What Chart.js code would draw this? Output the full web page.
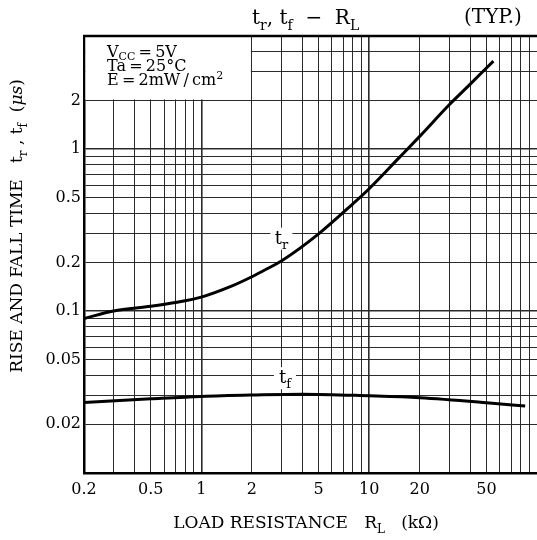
<!DOCTYPE html>
<html>
<head>
<meta charset="utf-8">
<script src="https://cdn.jsdelivr.net/npm/chart.js@4.4.1/dist/chart.umd.min.js"></script>
<style>
  html, body { margin: 0; padding: 0; background: #fff; }
</style>
</head>
<body>
<canvas id="chart" width="537" height="540"></canvas>
<script>
// rise time t_r against load resistance (kOhm -> us)
const trLoad = [0.2, 0.3, 0.5, 0.7, 1, 1.5, 2, 2.5, 3, 5, 8, 10, 15, 20, 30, 40, 55];
const trTime = [0.09, 0.1, 0.107, 0.113, 0.122, 0.142, 0.163, 0.184, 0.204, 0.3, 0.46, 0.57, 0.88, 1.2, 1.88, 2.52, 3.5];

// fall time t_f
const tfLoad = [0.2, 0.5, 1, 2, 4, 10, 20, 50, 85];
const tfTime = [0.0273, 0.0287, 0.0297, 0.0303, 0.0307, 0.03, 0.0292, 0.0272, 0.0259];

// grid lines and printed tick labels
const xGrid = [0.2, 0.3, 0.4, 0.5, 0.6, 0.7, 0.8, 0.9, 1, 2, 3, 4, 5, 6, 7, 8, 9, 10, 20, 30, 40, 50, 60, 70, 80, 90];
const xLabels = [0.2, 0.5, 1, 2, 5, 10, 20, 50];
const yGrid = [0.02, 0.03, 0.04, 0.05, 0.06, 0.07, 0.08, 0.09, 0.1, 0.2, 0.3, 0.4, 0.5, 0.6, 0.7, 0.8, 0.9, 1, 2, 3, 4];
const yLabels = [0.02, 0.05, 0.1, 0.2, 0.5, 1, 2];
const decades = [0.1, 1, 10];

const FONT = '"DejaVu Serif", "Liberation Serif", serif';

function toPoints(xs, ys) {
  return xs.map((x, i) => ({ x: x, y: ys[i] }));
}

// parts: [text, mode]  mode 0 normal, 1 subscript, 2 superscript, 3 italic
function drawRich(ctx, parts, x, y, size, align, subDrop) {
  ctx.save();
  const drop = subDrop === undefined ? 0.28 : subDrop;
  const fontFor = (m) => {
    const s = (m === 1 || m === 2) ? Math.round(size * 0.7) : size;
    return (m === 3 ? "italic " : "") + s + "px " + FONT;
  };
  let w = 0;
  parts.forEach((p) => {
    ctx.font = fontFor(p[1]);
    w += ctx.measureText(p[0]).width;
  });
  let cx = x;
  if (align === "center") cx = x - w / 2;
  if (align === "right") cx = x - w;
  ctx.textAlign = "left";
  ctx.textBaseline = "alphabetic";
  ctx.fillStyle = "#000";
  parts.forEach((p) => {
    ctx.font = fontFor(p[1]);
    let dy = 0;
    if (p[1] === 1) dy = size * drop;
    if (p[1] === 2) dy = -size * 0.4;
    ctx.fillText(p[0], cx, y + dy);
    cx += ctx.measureText(p[0]).width;
  });
  ctx.restore();
}

const boxPlugin = {
  id: "conditionsBox",
  beforeDatasetsDraw(chart) {
    const { ctx, chartArea, scales } = chart;
    const x2 = scales.x.getPixelForValue(2);
    const y2 = scales.y.getPixelForValue(2);
    ctx.save();
    ctx.fillStyle = "#fff";
    ctx.fillRect(chartArea.left + 1.5, chartArea.top + 1, x2 - chartArea.left - 2.5, y2 - chartArea.top - 2);
    ctx.restore();
  },
  afterDatasetsDraw(chart) {
    const { ctx, chartArea, scales } = chart;
    // top border
    ctx.save();
    ctx.strokeStyle = "#000";
    ctx.lineWidth = 2.5;
    ctx.beginPath();
    ctx.moveTo(chartArea.left - 1, chartArea.top);
    ctx.lineTo(chartArea.right, chartArea.top);
    ctx.stroke();

    // curve labels
    const labels = [
      { x: 3.0, y: 0.28, t: "r" },
      { x: 3.15, y: 0.0385, t: "f" },
    ];
    labels.forEach((l) => {
      const px = scales.x.getPixelForValue(l.x);
      const py = scales.y.getPixelForValue(l.y);
      ctx.fillStyle = "#fff";
      ctx.fillRect(px - 11, py - 11, 22, 22);
      drawRich(ctx, [["t", 0], [l.t, 1]], px, py + 5, 18, "center");
    });
    ctx.restore();

    // conditions
    const bx = chartArea.left + 23;
    drawRich(ctx, [["V", 0], ["CC", 1], ["\u2009=\u20095V", 0]], bx, 57, 16, "left", 0.2);
    drawRich(ctx, [["Ta\u2009=\u200925°C", 0]], bx, 71, 16, "left");
    drawRich(ctx, [["E\u2009=\u20092mW\u2009/\u2009cm", 0], ["2", 2]], bx, 85, 16, "left");

    // titles
    drawRich(ctx, [["t", 0], ["r", 1], [", t", 0], ["f", 1], ["  \u2212  R", 0], ["L", 1]], 252, 24, 20, "left");
    drawRich(ctx, [["(TYP.)", 0]], 464, 23, 20, "left");
    drawRich(ctx, [["LOAD RESISTANCE   R", 0], ["L", 1], ["   (k\u03a9)", 0]], 306, 528, 17, "center");

    ctx.save();
    ctx.translate(22, 226);
    ctx.rotate(-Math.PI / 2);
    drawRich(ctx, [["RISE AND FALL TIME   t", 0], ["r", 1], [" , t", 0], ["f", 1], ["  (", 0], ["\u03bcs", 3], [")", 0]], 0, 0, 17, "center");
    ctx.restore();
  },
};

function gridWidth(ctx) {
  const v = ctx.tick ? ctx.tick.value : null;
  return decades.includes(v) ? 1.6 : 1;
}

new Chart(document.getElementById("chart"), {
  type: "scatter",
  data: {
    datasets: [
      {
        label: "tr",
        data: toPoints(trLoad, trTime),
        showLine: true,
        borderColor: "#000",
        borderWidth: 3,
        pointRadius: 0,
        cubicInterpolationMode: "monotone",
      },
      {
        label: "tf",
        data: toPoints(tfLoad, tfTime),
        showLine: true,
        borderColor: "#000",
        borderWidth: 3,
        pointRadius: 0,
        cubicInterpolationMode: "monotone",
      },
    ],
  },
  options: {
    responsive: false,
    animation: false,
    layout: { padding: { top: 36, right: 0, left: 0, bottom: 0 } },
    plugins: {
      legend: { display: false },
      tooltip: { enabled: false },
    },
    scales: {
      x: {
        type: "logarithmic",
        min: 0.2,
        max: 100,
        afterBuildTicks: (scale) => {
          scale.ticks = xGrid.map((v) => ({ value: v }));
        },
        afterFit: (scale) => {
          scale.height = 67;
        },
        ticks: {
          autoSkip: false,
          maxRotation: 0,
          padding: 7,
          color: "#000",
          font: { family: FONT, size: 16 },
          callback: (value) => (xLabels.includes(value) ? String(value) : ""),
        },
        grid: { color: "#2a2a2a", lineWidth: gridWidth, drawTicks: false },
        border: { color: "#000", width: 2.5 },
      },
      y: {
        type: "logarithmic",
        min: 0.01,
        max: 5,
        afterBuildTicks: (scale) => {
          scale.ticks = yGrid.map((v) => ({ value: v }));
        },
        afterFit: (scale) => {
          scale.width = 84;
        },
        ticks: {
          autoSkip: false,
          padding: 3,
          color: "#000",
          font: { family: FONT, size: 16 },
          callback: (value) => (yLabels.includes(value) ? String(value) : ""),
        },
        grid: { color: "#2a2a2a", lineWidth: gridWidth, drawTicks: false },
        border: { color: "#000", width: 2.5 },
      },
    },
  },
  plugins: [boxPlugin],
});
</script>
</body>
</html>
